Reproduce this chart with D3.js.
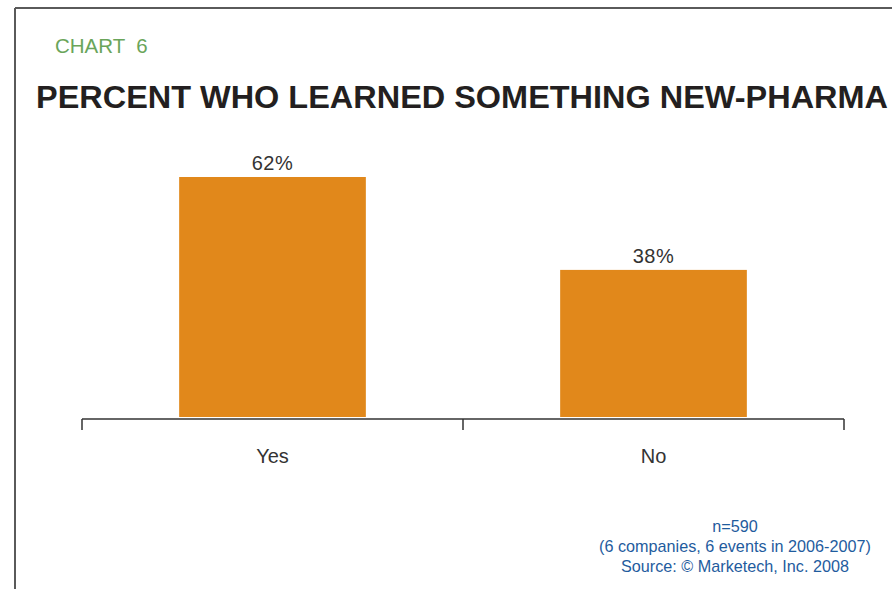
<!DOCTYPE html>
<html>
<head>
<meta charset="utf-8">
<script src="https://cdn.jsdelivr.net/npm/d3@7"></script>
<style>
  html, body { margin: 0; padding: 0; background: #fff; }
  svg { display: block; }
</style>
</head>
<body>
<svg id="chart" width="892" height="589"></svg>
<script>
// Survey answers and their shares (percent)
const categories = ["Yes", "No"];
const values = [62, 38];
const valueLabels = ["62%", "38%"];
const chartTag = "CHART  6";
const title = "PERCENT WHO LEARNED SOMETHING NEW-PHARMA";
const notes = ["n=590", "(6 companies, 6 events in 2006-2007)", "Source: \u00A9 Marketech, Inc. 2008"];

const svg = d3.select("#chart");
const W = 892, H = 589;
const font = "'Liberation Sans', Arial, Helvetica, sans-serif";

// Frame: top rule and left rule
svg.append("line").attr("x1", 15).attr("x2", W).attr("y1", 8).attr("y2", 8)
  .attr("stroke", "#5a5a5a").attr("stroke-width", 2);
svg.append("line").attr("x1", 15).attr("x2", 15).attr("y1", 8).attr("y2", H)
  .attr("stroke", "#5a5a5a").attr("stroke-width", 2);

// Headings
svg.append("text").attr("x", 55).attr("y", 52.5)
  .attr("font-family", font).attr("font-size", 20.5).attr("fill", "#6aa55a")
  .attr("xml:space", "preserve").style("white-space", "pre")
  .text(chartTag);
svg.append("text").attr("x", 36).attr("y", 107.5)
  .attr("font-family", font).attr("font-size", 30.5).attr("font-weight", "bold")
  .attr("fill", "#231f20").attr("textLength", 852).attr("lengthAdjust", "spacingAndGlyphs")
  .text(title);

// Scales
const axisY = 419, baseY = 417;
const x = d3.scaleBand().domain(categories).range([82, 844])
  .paddingInner(0.51).paddingOuter(0.255);
const y = d3.scaleLinear().domain([0, 62]).range([baseY, 177]);

// Bars
svg.append("g").selectAll("rect").data(categories).join("rect")
  .attr("x", d => x(d))
  .attr("width", x.bandwidth())
  .attr("y", (d, i) => y(values[i]))
  .attr("height", (d, i) => baseY - y(values[i]))
  .attr("fill", "#e1881b");

// Value labels
svg.append("g").selectAll("text").data(categories).join("text")
  .attr("x", d => x(d) + x.bandwidth() / 2)
  .attr("y", (d, i) => y(values[i]) - 7)
  .attr("text-anchor", "middle")
  .attr("font-family", font).attr("font-size", 20).attr("fill", "#333")
  .attr("letter-spacing", 0.5)
  .text((d, i) => valueLabels[i]);

// Category axis: rule with ticks at the category boundaries
const step = x.step();
const edges = [x(categories[0]) - x.paddingOuter() * step]
  .concat(categories.map(c => x(c) + x.bandwidth() + x.paddingInner() * step / 2));
edges[edges.length - 1] = x.range()[1];
const axis = svg.append("g");
axis.append("line").attr("x1", x.range()[0]).attr("x2", x.range()[1])
  .attr("y1", axisY).attr("y2", axisY).attr("stroke", "#333").attr("stroke-width", 1.5);
axis.selectAll("line.tick").data(edges).join("line").attr("class", "tick")
  .attr("x1", d => d).attr("x2", d => d).attr("y1", axisY).attr("y2", axisY + 11)
  .attr("stroke", "#333").attr("stroke-width", 1.5);

// Category labels via d3 axis (no tick marks, no domain)
const labelAxis = svg.append("g").attr("transform", `translate(0,${axisY})`)
  .call(d3.axisBottom(x).tickSize(0).tickPadding(0));
labelAxis.select(".domain").remove();
labelAxis.selectAll("text")
  .attr("font-family", font).attr("font-size", 20).attr("fill", "#333")
  .attr("dy", null).attr("y", 44);

// Notes
svg.append("g").selectAll("text").data(notes).join("text")
  .attr("x", 735).attr("y", (d, i) => 532 + i * 20)
  .attr("text-anchor", "middle")
  .attr("font-family", font).attr("font-size", 16.2).attr("fill", "#1f5c9e")
  .text(d => d);
</script>
</body>
</html>
